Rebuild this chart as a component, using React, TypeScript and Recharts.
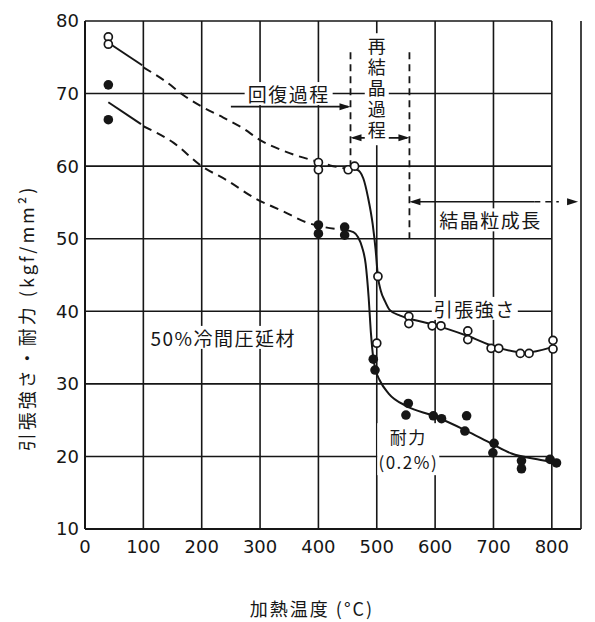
import React from "react";
import {
  CartesianGrid,
  ComposedChart,
  Label,
  Line,
  ReferenceDot,
  ReferenceLine,
  Scatter,
  XAxis,
  YAxis,
} from "recharts";

// 加熱温度 (°C) vs 強さ (kgf/mm²)
const xTicks = [0, 100, 200, 300, 400, 500, 600, 700, 800];
const yTicks = [10, 20, 30, 40, 50, 60, 70, 80];
const gridLevels = [20, 30, 40, 50, 60, 70, 80];

// measured points
const tensilePoints = [
  { t: 40, v: 77.8 }, { t: 40, v: 76.8 },
  { t: 400, v: 60.5 }, { t: 400, v: 59.5 },
  { t: 451, v: 59.5 }, { t: 462, v: 60.0 },
  { t: 502, v: 44.8 }, { t: 500, v: 35.6 },
  { t: 555, v: 39.3 }, { t: 555, v: 38.3 },
  { t: 595, v: 38.0 }, { t: 610, v: 38.0 },
  { t: 656, v: 37.3 }, { t: 656, v: 36.1 },
  { t: 696, v: 34.9 }, { t: 709, v: 34.9 },
  { t: 746, v: 34.2 }, { t: 761, v: 34.2 },
  { t: 802, v: 36.0 }, { t: 802, v: 34.8 },
];

const yieldPoints = [
  { t: 40, v: 71.2 }, { t: 40, v: 66.4 },
  { t: 400, v: 51.9 }, { t: 400, v: 50.7 },
  { t: 445, v: 51.6 }, { t: 445, v: 50.5 },
  { t: 494, v: 33.4 }, { t: 497, v: 31.9 },
  { t: 554, v: 27.3 }, { t: 550, v: 25.7 },
  { t: 597, v: 25.6 }, { t: 611, v: 25.2 },
  { t: 654, v: 25.6 }, { t: 651, v: 23.5 },
  { t: 701, v: 21.8 }, { t: 699, v: 20.5 },
  { t: 748, v: 19.4 }, { t: 748, v: 18.3 },
  { t: 797, v: 19.6 }, { t: 808, v: 19.1 },
];

// curves (solid start, dashed recovery part, solid rest)
const tensileHead = [{ t: 40, v: 77.0 }, { t: 98, v: 73.9 }];
const tensileRecovery = [
  { t: 100, v: 73.6 }, { t: 136, v: 71.8 }, { t: 170, v: 69.7 }, { t: 200, v: 68.2 },
  { t: 237, v: 66.7 }, { t: 271, v: 65.2 }, { t: 300, v: 63.6 }, { t: 334, v: 62.3 },
  { t: 361, v: 61.5 }, { t: 390, v: 60.8 }, { t: 420, v: 60.1 }, { t: 451, v: 59.6 },
];
const tensileMain = [
  { t: 451, v: 59.6 }, { t: 466, v: 59.5 }, { t: 477, v: 58.3 }, { t: 485, v: 55.7 },
  { t: 493, v: 52.0 }, { t: 498, v: 48.5 }, { t: 502, v: 44.8 }, { t: 507, v: 42.8 },
  { t: 514, v: 41.4 }, { t: 522, v: 40.2 }, { t: 540, v: 39.4 }, { t: 555, v: 39.0 },
  { t: 595, v: 38.2 }, { t: 656, v: 36.6 }, { t: 703, v: 35.1 }, { t: 753, v: 34.3 },
  { t: 802, v: 35.1 },
];

const yieldHead = [{ t: 40, v: 68.8 }, { t: 96, v: 65.8 }];
const yieldRecovery = [
  { t: 100, v: 65.5 }, { t: 152, v: 63.2 }, { t: 200, v: 60.0 }, { t: 242, v: 58.1 },
  { t: 293, v: 55.5 }, { t: 339, v: 53.8 }, { t: 378, v: 52.3 }, { t: 410, v: 51.6 },
  { t: 445, v: 51.2 },
];
const yieldMain = [
  { t: 445, v: 51.2 }, { t: 460, v: 50.9 }, { t: 468, v: 50.2 }, { t: 475, v: 48.8 },
  { t: 481, v: 46.5 }, { t: 486, v: 42.0 }, { t: 490, v: 37.0 }, { t: 494, v: 33.6 },
  { t: 498, v: 31.9 }, { t: 505, v: 30.5 }, { t: 520, v: 28.7 }, { t: 552, v: 26.9 },
  { t: 597, v: 25.6 }, { t: 652, v: 23.6 }, { t: 698, v: 21.7 }, { t: 731, v: 20.4 },
  { t: 775, v: 19.6 }, { t: 808, v: 19.1 },
];

// process boundaries
const recoveryEnd = 455;
const recrystEnd = 556;

const INK = "#161616";
const JP = "'Noto Sans CJK JP', 'Noto Sans', sans-serif";
const NUM = "'DejaVu Sans', sans-serif";

const openDot = (p: any) => (
  <circle cx={p.cx} cy={p.cy} r={4} fill="#fff" stroke={INK} strokeWidth={1.7} />
);
const fullDot = (p: any) => <circle cx={p.cx} cy={p.cy} r={4.8} fill={INK} />;

const arrowHead = (dir: number) => (p: any) => (
  <polygon
    points={`${p.cx},${p.cy} ${p.cx - dir * 11},${p.cy - 3.5} ${p.cx - dir * 11},${p.cy + 3.5}`}
    fill={INK}
  />
);

// white-backed text, one or more lines
const tag = (lines: string[], w: number, size = 19, lh = 21) => (p: any) => {
  const h = lines.length * lh + 2;
  return (
    <g>
      <rect x={p.cx - w / 2} y={p.cy - h / 2} width={w} height={h} fill="#fff" />
      <text textAnchor="middle" fontFamily={JP} fontSize={size} letterSpacing={1.5} fill={INK}>
        {lines.map((s, i) => (
          <tspan key={i} x={p.cx} y={p.cy + (i - (lines.length - 1) / 2) * lh} dominantBaseline="central">
            {s}
          </tspan>
        ))}
      </text>
    </g>
  );
};

const vtag = (text: string) => (p: any) => (
  <g>
    <rect x={p.cx - 12} y={p.cy - 56} width={24} height={112} fill="#fff" />
    <text
      x={p.cx}
      y={p.cy}
      writingMode="vertical-rl"
      textAnchor="middle"
      fontFamily={JP}
      fontSize={18}
      letterSpacing={3}
      fill={INK}
    >
      {text}
    </text>
  </g>
);

export default function App() {
  return (
    <div style={{ position: "absolute", left: 0, top: 0, width: 595, height: 622, background: "#fff" }}>
      <ComposedChart width={595} height={622} margin={{ top: 21, right: 14, bottom: 63, left: 0 }}>
        <CartesianGrid horizontal={false} stroke={INK} strokeWidth={1.6} />
        <XAxis
          dataKey="t"
          type="number"
          domain={[0, 850]}
          ticks={xTicks}
          tickLine={false}
          tickSize={6}
          tickMargin={5}
          axisLine={{ stroke: INK, strokeWidth: 2 }}
          tick={{ fontSize: 18, fill: INK, fontFamily: NUM }}
        >
          <Label
            content={() => (
              <text x={312} y={608} textAnchor="middle" dominantBaseline="central" fontFamily={JP} fontSize={18} letterSpacing={2} fill={INK}>
                加熱温度 (°C)
              </text>
            )}
          />
        </XAxis>
        <YAxis
          dataKey="v"
          type="number"
          domain={[10, 80]}
          ticks={yTicks}
          width={85}
          tickLine={false}
          tickSize={4}
          tickMargin={2}
          axisLine={{ stroke: INK, strokeWidth: 2 }}
          tick={{ fontSize: 18, fill: INK, fontFamily: NUM }}
        >
          <Label
            content={() => (
              <text
                x={26}
                y={318}
                transform="rotate(-90 26 318)"
                textAnchor="middle"
                dominantBaseline="central"
                fontFamily={JP}
                fontSize={18}
                letterSpacing={3}
                fill={INK}
              >
                引張強さ・耐力 (kgf/mm²)
              </text>
            )}
          />
        </YAxis>

        {gridLevels.map((g) => (
          <ReferenceLine key={g} segment={[{ x: 0, y: g }, { x: 800, y: g }]} stroke={INK} strokeWidth={1.6} />
        ))}

        <Line data={tensileHead} dataKey="v" type="monotone" stroke={INK} strokeWidth={2} dot={false} isAnimationActive={false} />
        <Line data={tensileRecovery} dataKey="v" type="monotone" stroke={INK} strokeWidth={2} strokeDasharray="9 6" dot={false} isAnimationActive={false} />
        <Line data={tensileMain} dataKey="v" type="monotone" stroke={INK} strokeWidth={2} dot={false} isAnimationActive={false} />
        <Line data={yieldHead} dataKey="v" type="monotone" stroke={INK} strokeWidth={2} dot={false} isAnimationActive={false} />
        <Line data={yieldRecovery} dataKey="v" type="monotone" stroke={INK} strokeWidth={2} strokeDasharray="9 6" dot={false} isAnimationActive={false} />
        <Line data={yieldMain} dataKey="v" type="monotone" stroke={INK} strokeWidth={2} dot={false} isAnimationActive={false} />

        {/* process zone markers */}
        <ReferenceLine segment={[{ x: recoveryEnd, y: 75.7 }, { x: recoveryEnd, y: 59.9 }]} stroke={INK} strokeWidth={1.8} strokeDasharray="7 5" />
        <ReferenceLine segment={[{ x: recrystEnd, y: 75.7 }, { x: recrystEnd, y: 50 }]} stroke={INK} strokeWidth={1.8} strokeDasharray="7 5" />

        <ReferenceDot x={349} y={70} r={0} shape={tag(["回復過程"], 88)} />
        <ReferenceDot x={500} y={70.6} r={0} shape={vtag("再結晶過程")} />
        <ReferenceDot x={695} y={52.6} r={0} shape={tag(["結晶粒成長"], 108)} />
        <ReferenceDot x={668} y={40.4} r={0} shape={tag(["引張強さ"], 86)} />
        <ReferenceDot x={237} y={36.4} r={0} shape={tag(["50%冷間圧延材"], 152)} />
        <ReferenceDot x={554} y={21.0} r={0} shape={tag(["耐力", "(0.2%)"], 62, 17, 25)} />

        <ReferenceLine segment={[{ x: 250, y: 68.2 }, { x: recoveryEnd - 4, y: 68.2 }]} stroke={INK} strokeWidth={1.6} />
        <ReferenceDot x={recoveryEnd} y={68.2} r={0} shape={arrowHead(1)} />

        <ReferenceLine segment={[{ x: recoveryEnd + 4, y: 63.9 }, { x: recrystEnd - 4, y: 63.9 }]} stroke={INK} strokeWidth={1.6} />
        <ReferenceDot x={recoveryEnd} y={63.9} r={0} shape={arrowHead(-1)} />
        <ReferenceDot x={recrystEnd} y={63.9} r={0} shape={arrowHead(1)} />

        <ReferenceLine segment={[{ x: recrystEnd + 4, y: 55.1 }, { x: 770, y: 55.1 }]} stroke={INK} strokeWidth={1.6} />
        <ReferenceLine segment={[{ x: 770, y: 55.1 }, { x: 812, y: 55.1 }]} stroke={INK} strokeWidth={1.6} strokeDasharray="6 5" />
        <ReferenceDot x={recrystEnd} y={55.1} r={0} shape={arrowHead(-1)} />
        <ReferenceDot x={845} y={55.1} r={0} shape={arrowHead(1)} />

        <Scatter data={tensilePoints} dataKey="v" shape={openDot} isAnimationActive={false} />
        <Scatter data={yieldPoints} dataKey="v" shape={fullDot} isAnimationActive={false} />
      </ComposedChart>
    </div>
  );
}
